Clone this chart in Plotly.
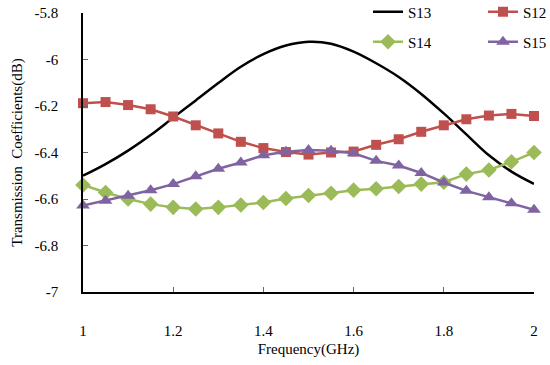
import plotly.graph_objects as go

freq = [1.00, 1.05, 1.10, 1.15, 1.20, 1.25, 1.30, 1.35, 1.40, 1.45, 1.50,
        1.55, 1.60, 1.65, 1.70, 1.75, 1.80, 1.85, 1.90, 1.95, 2.00]

s13 = [-6.500, -6.450, -6.392, -6.325, -6.250, -6.176, -6.101, -6.031, -5.977, -5.940, -5.924,
       -5.932, -5.966, -6.016, -6.075, -6.148, -6.232, -6.322, -6.412, -6.482, -6.535]
s12 = [-6.188, -6.183, -6.196, -6.214, -6.245, -6.283, -6.318, -6.354, -6.381, -6.398, -6.409,
       -6.400, -6.396, -6.367, -6.343, -6.311, -6.283, -6.257, -6.241, -6.234, -6.243]
s14 = [-6.540, -6.572, -6.600, -6.622, -6.636, -6.643, -6.636, -6.626, -6.615, -6.598, -6.585,
       -6.575, -6.562, -6.556, -6.546, -6.536, -6.528, -6.493, -6.475, -6.440, -6.400]
s15 = [-6.628, -6.607, -6.586, -6.562, -6.536, -6.502, -6.470, -6.443, -6.412, -6.397, -6.389,
       -6.393, -6.403, -6.436, -6.456, -6.488, -6.529, -6.565, -6.593, -6.618, -6.646]

x_ticks = [1.0, 1.2, 1.4, 1.6, 1.8, 2.0]
x_ticklabels = ["1", "1.2", "1.4", "1.6", "1.8", "2"]
y_ticks = [-5.8, -6.0, -6.2, -6.4, -6.6, -6.8, -7.0]
y_ticklabels = ["-5.8", "-6", "-6.2", "-6.4", "-6.6", "-6.8", "-7"]

FONT = "Liberation Serif"

fig = go.Figure()
fig.add_trace(go.Scatter(x=freq, y=s13, name="S13", mode="lines",
                         line=dict(color="black", width=2.5, shape="spline", smoothing=1),
                         legend="legend", cliponaxis=False))
fig.add_trace(go.Scatter(x=freq, y=s12, name="S12", mode="lines+markers",
                         line=dict(color="#C0504D", width=2.5),
                         marker=dict(symbol="square", size=10, color="#C0504D"),
                         legend="legend", cliponaxis=False))
fig.add_trace(go.Scatter(x=freq, y=s14, name="S14", mode="lines+markers",
                         line=dict(color="#9BBB59", width=2.5),
                         marker=dict(symbol="diamond", size=12, color="#9BBB59"),
                         legend="legend2", cliponaxis=False))
fig.add_trace(go.Scatter(x=freq, y=s15, name="S15", mode="lines+markers",
                         line=dict(color="#8064A2", width=2.5),
                         marker=dict(symbol="triangle-up", size=12, color="#8064A2"),
                         legend="legend2", cliponaxis=False))

legend_common = dict(orientation="h", xref="container", yref="container",
                     xanchor="left", yanchor="middle",
                     font=dict(family=FONT, size=15, color="black"),
                     bgcolor="rgba(0,0,0,0)", entrywidth=70, entrywidthmode="pixels",
                     tracegroupgap=0)

fig.update_layout(
    width=550, height=365,
    margin=dict(l=83, r=16, t=13, b=73, autoexpand=False),
    paper_bgcolor="white", plot_bgcolor="white",
    font=dict(family=FONT, size=15, color="black"),
    showlegend=True,
    legend=dict(x=368/550, y=1 - 12/365, **legend_common),
    legend2=dict(x=368/550, y=1 - 42/365, **legend_common),
    xaxis=dict(range=[1, 2], tickvals=x_ticks, ticktext=x_ticklabels,
               showgrid=False, zeroline=False, showline=True, linecolor="black", linewidth=1.5,
               ticks="inside", ticklen=5, tickcolor="#666", tickwidth=1,
               ticklabelstandoff=24, tickfont=dict(family=FONT, size=15),
               title=dict(text="Frequency(GHz)", font=dict(family=FONT, size=15), standoff=6)),
    yaxis=dict(range=[-7, -5.8], tickvals=y_ticks, ticktext=y_ticklabels,
               showgrid=False, zeroline=False, showline=True, linecolor="black", linewidth=1.5,
               ticks="inside", ticklen=5, tickcolor="#666", tickwidth=1,
               ticklabelstandoff=20, tickfont=dict(family=FONT, size=15),
               title=dict(text="Transmission&nbsp;&nbsp;Coefficients(dB)",
                          font=dict(family=FONT, size=15), standoff=8)),
)

fig.write_html("out.html")
